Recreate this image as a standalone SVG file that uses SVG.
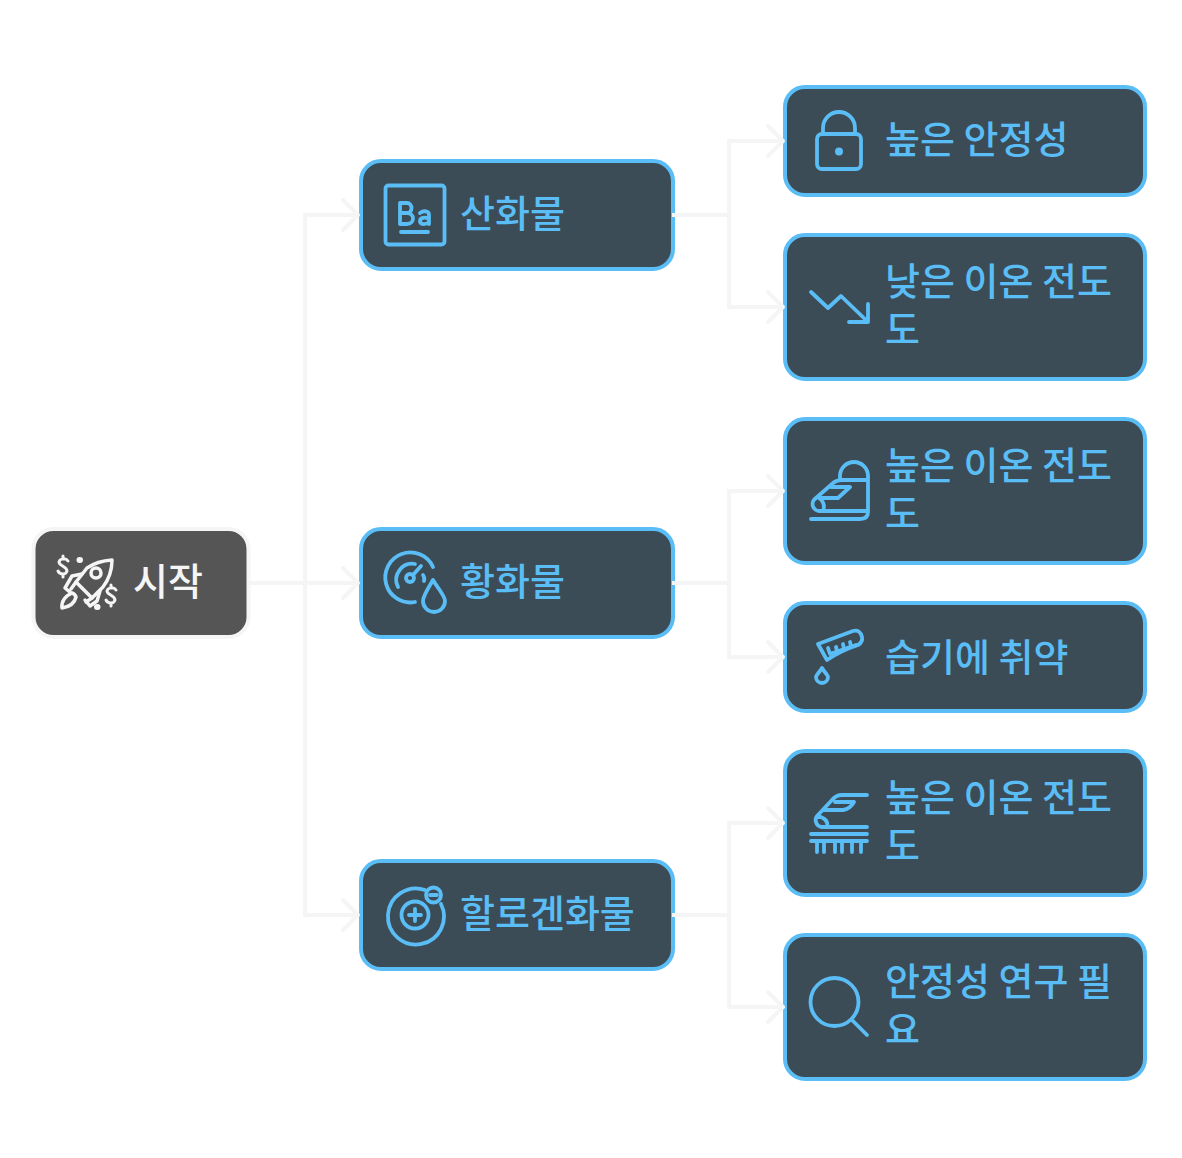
<svg xmlns="http://www.w3.org/2000/svg" width="1182" height="1158" viewBox="0 0 1182 1158">
<style>
.n{fill:#3c4c56;stroke:#5abdf5;stroke-width:4}
.s{fill:#555;stroke:#f5f5f5;stroke-width:4}
.c{fill:none;stroke:#f5f5f5;stroke-width:4}
.i{fill:none;stroke:#5abdf5;stroke-width:3.800;stroke-linecap:round;stroke-linejoin:round}
.w{fill:none;stroke:#f5f5f5;stroke-width:3.500;stroke-linecap:round;stroke-linejoin:round}
text{font-family:"Noto Sans CJK KR","Noto Sans",sans-serif;font-size:38px;font-weight:500;fill:#5abdf5}
</style>
<defs><marker id="a" markerUnits="userSpaceOnUse" markerWidth="20" markerHeight="34" refX="16" refY="16" orient="auto" overflow="visible"><path d="M1 1L16 16L1 31" fill="none" stroke="#f5f5f5" stroke-width="4" stroke-linecap="round" stroke-linejoin="round"/></marker></defs>
<g id="start"><rect class="s" x="33.500" y="529" width="215" height="108" rx="20"/>
<g class="w">
<path d="M87 568Q97 561 112 560Q112 575 103 587L92 598L76 582Z"/><circle cx="96" cy="573" r="5"/>
<path d="M82 574L72 576L65 588L71 593M100 591L97 601L90 606L85 600M76 582L71 589M92 598L86 602"/>
<path d="M62 608Q61 598 72 593Q75 594 76 597Q74 606 62 608Z"/>
<path d="M68 561C66 558 60 558 59 562C59 566 67 566 67 571C66 575 60 575 58 571M63 556V559M63 574V577" stroke-width="3"/>
<path d="M116 590C114 587 108 587 107 591C107 595 115 595 115 600C114 604 108 604 106 600M111 585V588M111 603V606" stroke-width="3"/>
<path d="M79.500 560l.5 0M97 607l.5 0" stroke-width="6"/>
</g><text x="133" y="595" style="fill:#f5f5f5">시작</text></g>
<g id="n1"><rect class="n" x="361" y="161" width="312" height="108" rx="20"/>
<g class="i"><rect x="385.500" y="185.500" width="59" height="59" rx="3"/><path d="M400 203V224M400 203H407C413 203 413 213 407 213H400M407 213C415 213 415 224 407 224H400M429 219C423 216 420 219 420 221C420 225 426 225 429 222M420 213C424 210 429 211 429 215V224M401 232H428"/></g>
<text x="460" y="227">산화물</text></g>
<g id="n2"><rect class="n" x="361" y="529" width="312" height="108" rx="20"/>
<g class="i"><path d="M433 567A25 25 0 1 0 415 602"/><path d="M398 587A16 16 0 0 1 415 564M423 575Q425 578 424 581"/><circle cx="410" cy="578" r="4"/><path d="M413 575L421 566M433 580C427 590 423 596 423 601A11 11 0 0 0 445 601C445 596 439 590 433 580Z"/></g>
<text x="460" y="595">황화물</text></g>
<g id="n3"><rect class="n" x="361" y="861" width="312" height="108" rx="20"/>
<g class="i"><path d="M425 890A28 28 0 1 0 441 904"/><circle cx="415" cy="915" r="13.500"/><path d="M415 909V921M409 915H421M430 895H437"/><circle cx="433.500" cy="895" r="7.500"/></g>
<text x="460" y="927">할로겐화물</text></g>
<g id="l1"><rect class="n" x="785" y="87" width="360" height="108" rx="20"/>
<g class="i"><rect x="817" y="134" width="44" height="35" rx="5"/><path d="M823 134V128A16 16 0 0 1 855 128V134"/></g><circle cx="839" cy="151.500" r="4" fill="#5abdf5"/>
<text x="885" y="153">높은 안정성</text></g>
<g id="l2"><rect class="n" x="785" y="235" width="360" height="144" rx="20"/>
<g class="i"><path d="M811 292L828 308L841 296L868 322M849 322H868V304"/></g>
<text x="885" y="295">낮은 이온 전도</text><text x="885" y="343">도</text></g>
<g id="l3"><rect class="n" x="785" y="419" width="360" height="144" rx="20"/>
<g class="i"><path d="M840 480V476A14 14 0 0 1 868 476V512Q868 519 860 519H811M866 511H820A7 7 0 0 1 816 498L832 484Q836 480 842 480H866"/><path d="M819 498H838L850 487H831M819 498Q826 503 823 511"/></g>
<text x="885" y="479">높은 이온 전도</text><text x="885" y="527">도</text></g>
<g id="l4"><rect class="n" x="785" y="603" width="360" height="108" rx="20"/>
<g class="i"><path d="M818 644L853 631Q860 629 862 637Q863 642 858 645Q840 651 827 660Z"/><path d="M828 648L830 654L856 645M836 647L837 651M843 644L844 649M850 642L851 646"/><path d="M822 668C819 673 816 675 816 677A6 6 0 0 0 828 677C828 675 825 673 822 668Z"/></g>
<text x="885" y="671">습기에 취약</text></g>
<g id="l5"><rect class="n" x="785" y="751" width="360" height="144" rx="20"/>
<g class="i"><path d="M867 795H842Q836 795 832 800L818 815A7 7 0 0 0 821 827H867M818 816Q829 819 827 827M825 810H843Q850 809 854 802H835"/><path d="M811 834H867M811 841H867M817 841V852M824 841V852M835 841V852M842 841V852M852 841V852M861 841V852"/></g>
<text x="885" y="811">높은 이온 전도</text><text x="885" y="859">도</text></g>
<g id="l6"><rect class="n" x="785" y="935" width="360" height="144" rx="20"/>
<g class="i"><circle cx="834.500" cy="1002" r="24"/><path d="M852 1020L867 1035"/></g>
<text x="885" y="995">안정성 연구 필</text><text x="885" y="1043">요</text></g>
<g id="connectors">
<path class="c" d="M250 583H305V215H358" marker-end="url(#a)"/>
<path class="c" d="M250 583H358" marker-end="url(#a)"/>
<path class="c" d="M250 583H305V915H358" marker-end="url(#a)"/>
<path class="c" d="M672 215H729V141H783" marker-end="url(#a)"/>
<path class="c" d="M672 215H729V307H783" marker-end="url(#a)"/>
<path class="c" d="M672 583H729V491H783" marker-end="url(#a)"/>
<path class="c" d="M672 583H729V657H783" marker-end="url(#a)"/>
<path class="c" d="M672 915H729V823H783" marker-end="url(#a)"/>
<path class="c" d="M672 915H729V1007H783" marker-end="url(#a)"/>
</g>
</svg>
